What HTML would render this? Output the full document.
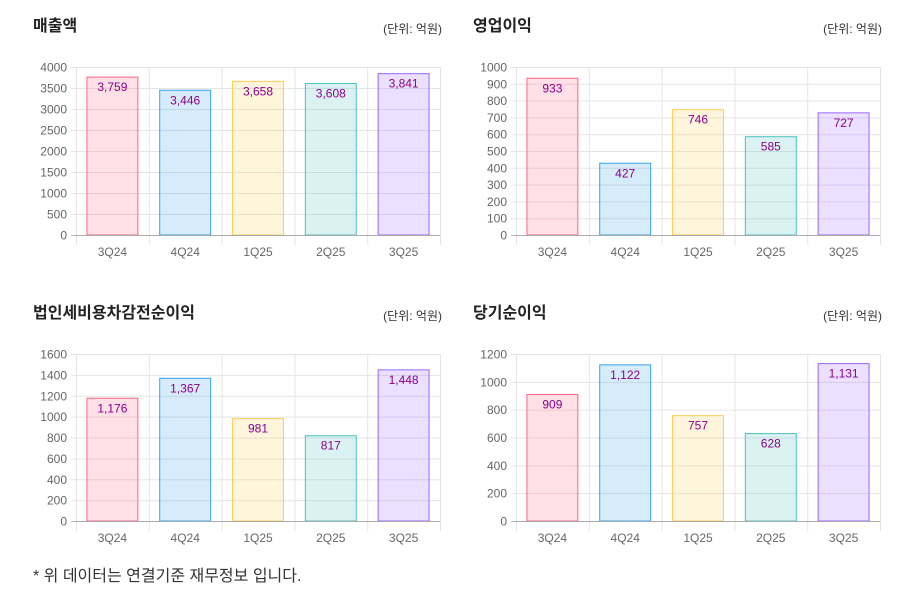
<!DOCTYPE html>
<html><head><meta charset="utf-8">
<style>
body{margin:0;width:910px;height:600px;background:#fff;font-family:"Liberation Sans","Noto Sans CJK KR",sans-serif;overflow:hidden;position:relative}
.title{position:absolute;font-size:16px;font-weight:bold;color:#222}
.unit{position:absolute;font-size:12px;color:#333;text-align:right}
.note{position:absolute;left:33px;top:562px;font-size:16px;color:#333}
svg{position:absolute;left:0;top:0}
</style></head><body>
<div class="title" style="left:33px;top:12px">매출액</div>
<div class="unit" style="left:342px;width:100px;top:20px">(단위: 억원)</div>
<div class="title" style="left:473px;top:12px">영업이익</div>
<div class="unit" style="left:782px;width:100px;top:20px">(단위: 억원)</div>
<div class="title" style="left:33px;top:299px">법인세비용차감전순이익</div>
<div class="unit" style="left:342px;width:100px;top:307px">(단위: 억원)</div>
<div class="title" style="left:473px;top:299px">당기순이익</div>
<div class="unit" style="left:782px;width:100px;top:307px">(단위: 억원)</div>
<div class="note">* 위 데이터는 연결기준 재무정보 입니다.</div>
<svg id="s" width="910" height="600"></svg>
<script>
const categories=["3Q24","4Q24","1Q25","2Q25","3Q25"];
const revenue=[3759,3446,3658,3608,3841];
const operatingProfit=[933,427,746,585,727];
const pretaxProfit=[1176,1367,981,817,1448];
const netProfit=[909,1122,757,628,1131];
const revenueTicks=[0,500,1000,1500,2000,2500,3000,3500,4000];
const opTicks=[0,100,200,300,400,500,600,700,800,900,1000];
const pretaxTicks=[0,200,400,600,800,1000,1200,1400,1600];
const netTicks=[0,200,400,600,800,1000,1200];
const fills=["rgba(255,99,132,0.2)","rgba(54,162,235,0.2)","rgba(255,206,86,0.2)","rgba(75,192,192,0.2)","rgba(153,102,255,0.2)"];
const strokes=["rgb(255,99,132)","rgb(54,162,235)","rgb(255,206,86)","rgb(75,192,192)","rgb(153,102,255)"];
const svg=document.getElementById('s');const NS="http://www.w3.org/2000/svg";
function mk(t,a,txt){const e=document.createElementNS(NS,t);for(const k in a)e.setAttribute(k,a[k]);if(txt!=null)e.textContent=txt;svg.appendChild(e);return e;}
function chart(name,x0,y0,y1,values,ticks){
 const w=364,max=ticks[ticks.length-1];const cw=w/categories.length;
 const ys=v=>y1-(v/max)*(y1-y0);
 ticks.forEach(t=>{const y=ys(t)+0.5;
  const g=mk('line',{x1:x0-5,x2:x0+w,y1:y,y2:y,stroke:t===0?'#bbb':'#e5e5e5'});
  
  const l=mk('text',{x:x0-9,y:y+4,'text-anchor':'end','font-size':12,fill:'#666'},t);
  });
 for(let i=0;i<=categories.length;i++){const x=x0+i*cw+0.5;
  const v=mk('line',{x1:x,x2:x,y1:y0,y2:y1+10,stroke:'#e5e5e5'});
  }
 categories.forEach((c,i)=>{const cx=x0+(i+0.5)*cw,bw=cw*0.7,y=ys(values[i]);
  const r=mk('rect',{x:cx-bw/2,y:y,width:bw,height:y1-y,fill:fills[i],stroke:strokes[i],'stroke-width':1});
  
  const t=mk('text',{x:cx,y:y+14,'text-anchor':'middle','font-size':12,fill:'#8b008b'},values[i].toLocaleString('en-US'));
  
  const xl=mk('text',{x:cx,y:y1+21,'text-anchor':'middle','font-size':12,fill:'#666'},c);
  });
 const ax=mk('line',{x1:x0,x2:x0+w,y1:y1+0.5,y2:y1+0.5,stroke:'#aaa'});
 
}
chart('revenue',76,67,235,revenue,revenueTicks);
chart('operating-profit',516,67,235,operatingProfit,opTicks);
chart('pretax-profit',76,354,521,pretaxProfit,pretaxTicks);
chart('net-profit',516,354,521,netProfit,netTicks);
</script>
</body></html>
